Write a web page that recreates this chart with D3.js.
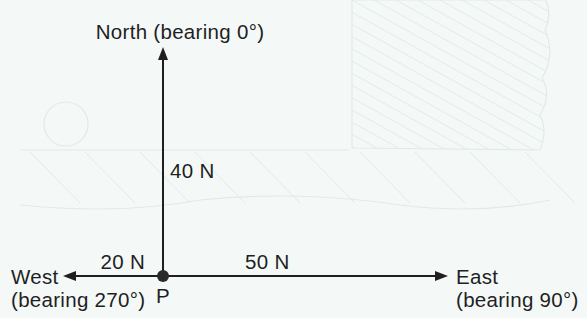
<!DOCTYPE html>
<html>
<head>
<meta charset="utf-8">
<script src="https://cdn.jsdelivr.net/npm/d3@7"></script>
<style>
  html, body { margin: 0; padding: 0; background: #f4f9f8; }
  svg { display: block; }
</style>
</head>
<body>
<svg width="587" height="318"></svg>
<script>
const svg_width = 587;
const svg_height = 318;

// the forces acting on P
const directions = ["North", "West", "East"];
const bearings = [0, 270, 90];
const forces = [40, 20, 50];
const force_labels = ["40 N", "20 N", "50 N"];
const bearing_labels = ["(bearing 0°)", "(bearing 270°)", "(bearing 90°)"];

// arrows are not drawn to scale in the book, so the scale is piecewise
const length_scale = d3.scaleLinear().domain([0, 20, 40, 50]).range([0, 100, 229, 285]);

const origin = { x: 163, y: 276 };
const ink = "#1f1f1f";
const font = "'Liberation Sans', Arial, Helvetica, sans-serif";

var svg = d3.select("svg");

// faint marks showing through from the other side of the page
function drawGhosts() {
  var g = svg.append("g").attr("class", "ghost");
  var ghost_col = "#dfeaec";

  // hatched block at the top right
  var clip = svg.append("clipPath").attr("id", "hatch-clip");
  var outline = "M352 0 L352 148 L540 150 Q548 130 540 115 Q552 95 542 78 Q556 55 545 30 Q552 15 546 0 Z";
  clip.append("path").attr("d", outline);
  g.append("path").attr("d", outline)
    .attr("fill", "none").attr("stroke", ghost_col).attr("stroke-width", 1.2);
  var hatch = g.append("g").attr("clip-path", "url(#hatch-clip)");
  for (let i = -14; i < 10; i++) {
    const x0 = 352 + i * 22;
    hatch.append("line")
      .attr("x1", x0).attr("y1", 0)
      .attr("x2", x0 + 270).attr("y2", 150)
      .attr("stroke", ghost_col).attr("stroke-width", 1);
  }

  // wavy outline and circle on the left
  g.append("path")
    .attr("d", "M20 150 L350 150 M20 205 Q120 215 200 200 Q300 190 400 205 Q480 215 550 200")
    .attr("fill", "none").attr("stroke", ghost_col).attr("stroke-width", 1.2);
  g.append("circle").attr("cx", 66).attr("cy", 124).attr("r", 22)
    .attr("fill", "none").attr("stroke", ghost_col).attr("stroke-width", 1.2);
  for (let i = 0; i < 10; i++) {
    g.append("line")
      .attr("x1", 30 + i * 55).attr("y1", 152)
      .attr("x2", 80 + i * 55).attr("y2", 203)
      .attr("stroke", ghost_col).attr("stroke-width", 1);
  }
}

function drawArrows() {
  var arrows = directions.map(function (d, i) {
    const rad = bearings[i] * Math.PI / 180;
    const len = length_scale(forces[i]);
    return {
      name: d,
      dx: Math.sin(rad),
      dy: -Math.cos(rad),
      len: len,
      tip_x: origin.x + Math.sin(rad) * len,
      tip_y: origin.y - Math.cos(rad) * len,
      force: force_labels[i],
      bearing: bearing_labels[i]
    };
  });

  var g = svg.append("g").attr("class", "arrows");
  const head_len = 13;
  const head_half = 5;

  g.selectAll(".shaft").data(arrows).enter().append("line")
    .attr("class", "shaft")
    .attr("x1", origin.x).attr("y1", origin.y)
    .attr("x2", d => d.tip_x - d.dx * head_len)
    .attr("y2", d => d.tip_y - d.dy * head_len)
    .attr("stroke", ink).attr("stroke-width", 2);

  g.selectAll(".head").data(arrows).enter().append("path")
    .attr("class", "head")
    .attr("d", function (d) {
      const bx = d.tip_x - d.dx * head_len;
      const by = d.tip_y - d.dy * head_len;
      // perpendicular to the shaft
      const px = -d.dy * head_half;
      const py = d.dx * head_half;
      return `M ${d.tip_x} ${d.tip_y} L ${bx + px} ${by + py} L ${bx - px} ${by - py} Z`;
    })
    .attr("fill", ink);

  g.append("circle")
    .attr("cx", origin.x).attr("cy", origin.y).attr("r", 6)
    .attr("fill", "#2a2a2a");

  var text = svg.append("g").attr("class", "labels")
    .attr("font-family", font).attr("font-size", 20.5)
    .attr("letter-spacing", 0.3).attr("fill", ink);

  // North label sits above the tip
  var north = arrows[0];
  text.append("text")
    .attr("x", north.tip_x + 17).attr("y", north.tip_y - 8)
    .attr("text-anchor", "middle")
    .text(north.name + " " + north.bearing);

  // West label to the left of its tip
  var west = arrows[1];
  text.append("text").attr("x", 11).attr("y", west.tip_y + 8).text(west.name);
  text.append("text").attr("x", 11).attr("y", west.tip_y + 31).text(west.bearing);

  // East label to the right of its tip
  var east = arrows[2];
  text.append("text").attr("x", east.tip_x + 8).attr("y", east.tip_y + 8).text(east.name);
  text.append("text").attr("x", east.tip_x + 8).attr("y", east.tip_y + 31).text(east.bearing);

  // magnitudes
  text.append("text")
    .attr("x", origin.x + 7).attr("y", origin.y - north.len * 0.43)
    .text(north.force);
  text.append("text")
    .attr("x", origin.x - 18).attr("y", origin.y - 7)
    .attr("text-anchor", "end")
    .text(west.force);
  text.append("text")
    .attr("x", origin.x + 82).attr("y", origin.y - 7)
    .text(east.force);

  text.append("text")
    .attr("x", origin.x).attr("y", origin.y + 27)
    .attr("text-anchor", "middle")
    .text("P");
}

drawGhosts();
drawArrows();
</script>
</body>
</html>
